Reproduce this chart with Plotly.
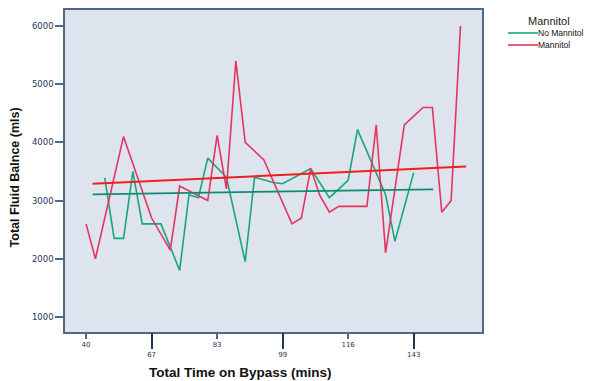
import plotly.graph_objects as go

# Category positions (index along the categorical time axis)
tick_pos = [0, 7, 14, 21, 28, 35]
tick_labels = ["40", "67", "83", "99", "116", "143"]

# Mannitol series
man_x = [0, 1, 4, 7, 9, 10, 13, 14, 15, 16, 17, 19, 22, 23, 24, 25, 26, 27, 30, 31, 32, 34, 36, 37, 38, 39, 40]
man_y = [2600, 2000, 4100, 2700, 2150, 3250, 3000, 4120, 3200, 5400, 4000, 3700, 2600, 2700, 3550, 3080, 2800, 2900,
         2900, 4300, 2100, 4300, 4600, 4600, 2800, 3000, 6000]

# No Mannitol series
nom_x = [2, 3, 4, 5, 6, 8, 10, 11, 12, 13, 15, 17, 18, 20, 21, 24, 26, 28, 29, 32, 33, 35]
nom_y = [3390, 2350, 2350, 3500, 2600, 2600, 1800, 3100, 3050, 3730, 3400, 1950, 3400, 3310, 3290, 3550, 3050, 3350,
         4220, 3100, 2300, 3480]

# Linear fit lines
man_fit_x = [0.7, 40.6]
man_fit_y = [3291, 3586]
nom_fit_x = [0.7, 37.1]
nom_fit_y = [3108, 3194]

y_ticks = [1000, 2000, 3000, 4000, 5000, 6000]

series_names = ["No Mannitol", "Mannitol"]
legend_title = "Mannitol"

GREEN = "#17a67a"
PINK = "#e33560"
AXC = "#4e6a88"
TXT = "#1f3556"
TICKFONT = "DejaVu Sans, Verdana, sans-serif"
MAINFONT = "Liberation Sans, Arial, sans-serif"

fig = go.Figure()
fig.add_trace(go.Scatter(x=nom_x, y=nom_y, mode="lines", name=series_names[0],
                         line=dict(color=GREEN, width=1.6)))
fig.add_trace(go.Scatter(x=man_x, y=man_y, mode="lines", name=series_names[1],
                         line=dict(color=PINK, width=1.6)))
fig.add_trace(go.Scatter(x=nom_fit_x, y=nom_fit_y, mode="lines", showlegend=False,
                         line=dict(color="#0f8a7a", width=1.8)))
fig.add_trace(go.Scatter(x=man_fit_x, y=man_fit_y, mode="lines", showlegend=False,
                         line=dict(color="#f01e1e", width=2)))
# dummy trace for the second (long-tick) x axis
fig.add_trace(go.Scatter(x=[None], y=[None], xaxis="x2", mode="lines", showlegend=False,
                         hoverinfo="skip"))

xr = [-2.25, 42.3]
fig.update_layout(
    width=588, height=373,
    margin=dict(l=57, r=114, t=2, b=49),
    paper_bgcolor="white",
    plot_bgcolor="#dde4ed",
    font=dict(family=MAINFONT, color=TXT),
    showlegend=False,
    xaxis=dict(range=xr, tickmode="array", tickvals=[tick_pos[0], tick_pos[2], tick_pos[4]],
               ticktext=[tick_labels[0], tick_labels[2], tick_labels[4]],
               ticks="outside", ticklen=5, tickwidth=1.5, tickcolor=AXC,
               tickfont=dict(size=7, color=TXT, family=TICKFONT),
               showgrid=False, zeroline=False, automargin=False,
               showline=True, linecolor=AXC, linewidth=1.5, mirror=True),
    xaxis2=dict(range=xr, overlaying="x", side="bottom", anchor="y", tickmode="array",
                tickvals=[tick_pos[1], tick_pos[3], tick_pos[5]],
                ticktext=[tick_labels[1], tick_labels[3], tick_labels[5]],
                ticks="outside", ticklen=16, tickwidth=1.5, tickcolor="#22364f",
                tickfont=dict(size=7, color=TXT, family=TICKFONT), automargin=False,
                showgrid=False, zeroline=False, showline=False),
    yaxis=dict(range=[741, 6276], tickmode="array", tickvals=y_ticks,
               ticks="outside", ticklen=8, tickwidth=1.5, tickcolor=AXC,
               tickfont=dict(size=8.5, color=TXT, family=TICKFONT),
               showgrid=False, zeroline=False, automargin=False,
               showline=True, linecolor=AXC, linewidth=1.5, mirror=True),
)

annotations = [
    dict(text="<b>Total Time on Bypass (mins)</b>", xref="paper", yref="paper",
         x=0.422, y=-0.127, xanchor="center", yanchor="middle", showarrow=False,
         font=dict(size=13.5, color="#111111", family=MAINFONT)),
    dict(text="<b>Total Fluid Balnce (mls)</b>", xref="paper", yref="paper",
         x=-0.12, y=0.48, xanchor="center", yanchor="middle", textangle=-90, showarrow=False,
         font=dict(size=12.5, color="#111111", family=MAINFONT)),
    dict(text=legend_title, xref="paper", yref="paper", x=1.16, y=0.967,
         xanchor="center", yanchor="middle", showarrow=False,
         font=dict(size=11, color="#222222", family=MAINFONT)),
]
shapes = []
legend_colors = [GREEN, PINK]
for i, (nm, col) in enumerate(zip(series_names, legend_colors)):
    ypix = 33 + 12 * i
    yp = 1 - (ypix - 10) / 322
    shapes.append(dict(type="line", xref="paper", yref="paper",
                       x0=(508 - 65) / 417, x1=(538 - 65) / 417, y0=yp, y1=yp,
                       line=dict(color=col, width=1.6)))
    annotations.append(dict(text=nm, xref="paper", yref="paper", x=(537 - 65) / 417, y=yp,
                            xanchor="left", yanchor="middle", showarrow=False, borderpad=0,
                            font=dict(size=8.5, color="#111111", family=MAINFONT)))

fig.update_layout(annotations=annotations, shapes=shapes)

fig.write_html("out.html")
